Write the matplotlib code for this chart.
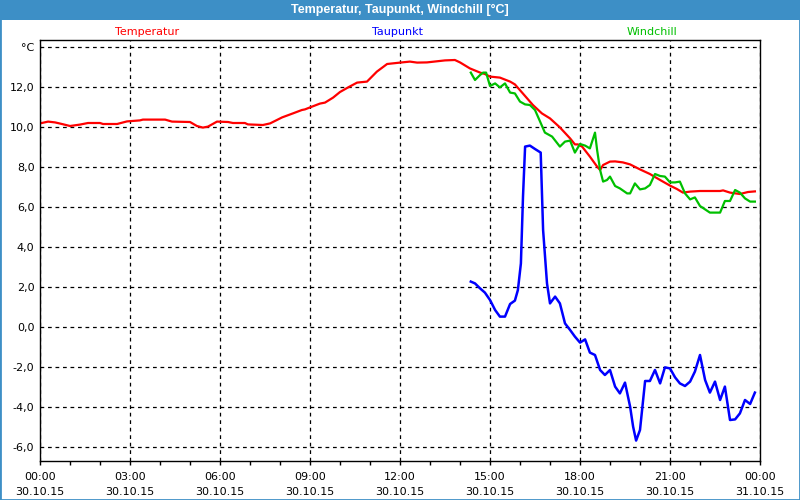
import matplotlib
matplotlib.use("Agg")
import matplotlib.pyplot as plt
from matplotlib.patches import Rectangle
from matplotlib.ticker import MultipleLocator, FixedLocator

# ====== data (hours since 30.10.15 00:00, °C) ======
temp_h = [0.0, 0.27, 0.5, 0.73, 1.0, 1.33, 1.6, 2.0, 2.1, 2.57, 2.9, 3.33, 3.43,
          4.17, 4.4, 5.0, 5.23, 5.43, 5.6, 5.9, 6.27, 6.43, 6.83, 6.93, 7.43,
          7.67, 8.07, 8.43, 8.73, 8.83, 9.07, 9.33, 9.5, 9.77, 10.0, 10.27,
          10.57, 10.9, 11.23, 11.57, 12.0, 12.33, 12.57, 12.9, 13.5, 13.83,
          14.0, 14.33, 14.67, 14.83, 15.0, 15.33, 15.67, 15.83, 16.07, 16.43,
          16.73, 17.0, 17.33, 17.67, 17.83, 17.93, 18.07, 18.33, 18.57, 18.67,
          18.77, 19.0, 19.17, 19.43, 19.67, 20.0, 20.33, 20.67, 21.0, 21.23,
          21.43, 21.67, 22.0, 22.67, 22.77, 23.0, 23.33, 23.6, 23.83]
temp_v = [10.18, 10.27, 10.23, 10.15, 10.05, 10.12, 10.2, 10.2, 10.15, 10.15,
          10.28, 10.33, 10.37, 10.37, 10.27, 10.25, 10.05, 9.97, 10.02, 10.27,
          10.25, 10.2, 10.2, 10.13, 10.1, 10.18, 10.48, 10.68, 10.85, 10.88,
          11.02, 11.17, 11.22, 11.47, 11.75, 11.98, 12.22, 12.27, 12.77, 13.15,
          13.22, 13.27, 13.22, 13.23, 13.33, 13.35, 13.23, 12.93, 12.72, 12.65,
          12.52, 12.47, 12.27, 12.13, 11.72, 11.1, 10.68, 10.43, 9.98, 9.43,
          9.13, 9.13, 9.02, 8.52, 8.02, 7.85, 8.1, 8.27, 8.28, 8.23, 8.13, 7.88,
          7.65, 7.35, 7.07, 6.9, 6.72, 6.77, 6.8, 6.8, 6.83, 6.72, 6.65, 6.75,
          6.78]

dew_h = [14.36, 14.5, 14.67, 14.83, 15.0, 15.17, 15.33, 15.5, 15.67, 15.83,
         15.93, 16.03, 16.1, 16.17, 16.33, 16.5, 16.69, 16.77, 16.9, 17.0,
         17.17, 17.33, 17.5, 17.67, 17.83, 18.0, 18.17, 18.33, 18.5, 18.67,
         18.83, 19.0, 19.17, 19.33, 19.5, 19.67, 19.77, 19.87, 20.0, 20.17,
         20.33, 20.5, 20.67, 20.83, 21.0, 21.17, 21.33, 21.5, 21.67, 21.83,
         22.0, 22.17, 22.33, 22.5, 22.67, 22.83, 23.0, 23.17, 23.33, 23.5,
         23.67, 23.83]
dew_v = [2.27, 2.18, 1.93, 1.72, 1.35, 0.85, 0.52, 0.52, 1.15, 1.32, 1.85,
         3.18, 6.52, 9.02, 9.07, 8.9, 8.72, 4.85, 2.18, 1.18, 1.52, 1.18, 0.18,
         -0.15, -0.48, -0.78, -0.62, -1.28, -1.4, -2.15, -2.4, -2.15, -2.98,
         -3.32, -2.78, -3.98, -4.98, -5.68, -5.15, -2.7, -2.7, -2.15, -2.82,
         -2.02, -2.07, -2.52, -2.82, -2.95, -2.73, -2.23, -1.4, -2.65, -3.28,
         -2.73, -3.65, -2.98, -4.65, -4.62, -4.32, -3.65, -3.85, -3.28]

wind_h = [14.36, 14.5, 14.67, 14.77, 14.87, 15.0, 15.17, 15.33, 15.5, 15.67,
          15.83, 16.0, 16.17, 16.33, 16.5, 16.67, 16.83, 17.07, 17.33, 17.5,
          17.67, 17.83, 18.0, 18.17, 18.33, 18.5, 18.57, 18.67, 18.77, 18.9,
          19.0, 19.17, 19.33, 19.57, 19.67, 19.83, 20.0, 20.17, 20.33, 20.5,
          20.67, 20.83, 21.0, 21.17, 21.33, 21.5, 21.67, 21.83, 22.0, 22.17,
          22.33, 22.67, 22.83, 23.0, 23.17, 23.33, 23.5, 23.67, 23.83]
wind_v = [12.72, 12.35, 12.6, 12.72, 12.72, 12.05, 12.18, 11.98, 12.18, 11.72,
          11.68, 11.27, 11.13, 11.1, 10.85, 10.27, 9.72, 9.52, 9.02, 9.27,
          9.32, 8.72, 9.15, 9.07, 8.93, 9.72, 8.85, 7.85, 7.27, 7.35, 7.52,
          7.05, 6.93, 6.68, 6.68, 7.18, 6.88, 6.93, 7.1, 7.65, 7.55, 7.52, 7.23,
          7.23, 7.27, 6.68, 6.38, 6.48, 6.05, 5.88, 5.72, 5.72, 6.3, 6.3, 6.85,
          6.72, 6.43, 6.27, 6.27]

y_ticks = [-6, -4, -2, 0, 2, 4, 6, 8, 10, 12, 14]
y_labels = ["-6,0", "-4,0", "-2,0", "0,0", "2,0", "4,0", "6,0", "8,0",
            "10,0", "12,0", "°C"]
x_ticks = [0, 3, 6, 9, 12, 15, 18, 21, 24]
x_labels = ["00:00\n30.10.15", "03:00\n30.10.15", "06:00\n30.10.15",
            "09:00\n30.10.15", "12:00\n30.10.15", "15:00\n30.10.15",
            "18:00\n30.10.15", "21:00\n30.10.15", "00:00\n31.10.15"]

plt.rcParams["font.family"] = ["DejaVu Sans"]

fig = plt.figure(figsize=(8, 5), dpi=100)
fig.patch.set_facecolor("white")

# title bar + frame
fig.patches.append(Rectangle((0, 0), 1, 1, transform=fig.transFigure,
                             facecolor="none", edgecolor="#3d8fc6", lw=2))
fig.patches.append(Rectangle((0, 480 / 500), 1, 20 / 500, transform=fig.transFigure,
                             facecolor="#3d8fc6", edgecolor="none"))
fig.text(0.5, 490 / 500, "Temperatur, Taupunkt, Windchill [°C]", color="white",
         fontsize=9, fontweight="bold", ha="center", va="center",
         family="Liberation Sans")

ax = fig.add_axes([40 / 800, 39 / 500, 720 / 800, 421 / 500])
ax.plot(temp_h, temp_v, color="#ff0000", lw=1.6)
ax.plot(wind_h, wind_v, color="#00c000", lw=1.6)
ax.plot(dew_h, dew_v, color="#0000ff", lw=1.8)

ax.set_xlim(0, 24)
ax.set_ylim(-6.7, 14.35)
ax.xaxis.set_major_locator(FixedLocator(x_ticks))
ax.xaxis.set_minor_locator(MultipleLocator(1))
ax.set_xticklabels(x_labels, fontsize=8, linespacing=1.55)
ax.set_yticks(y_ticks)
ax.set_yticklabels(y_labels, fontsize=8)
ax.tick_params(axis="x", which="both", direction="out", length=3, width=1, pad=5)
ax.tick_params(axis="y", length=0, pad=4)
ax.grid(True, which="major", color="black", linestyle=(0, (3, 3)), lw=0.9)
for s in ax.spines.values():
    s.set_color("black")
    s.set_linewidth(1)

fig.text(147 / 800, 1 - 32 / 500, "Temperatur", color="#ff0000", fontsize=8,
         ha="center", va="center")
fig.text(398 / 800, 1 - 32 / 500, "Taupunkt", color="#0000ff", fontsize=8,
         ha="center", va="center")
fig.text(652 / 800, 1 - 32 / 500, "Windchill", color="#00c000", fontsize=8,
         ha="center", va="center")

fig.savefig("out.png", dpi=100)
